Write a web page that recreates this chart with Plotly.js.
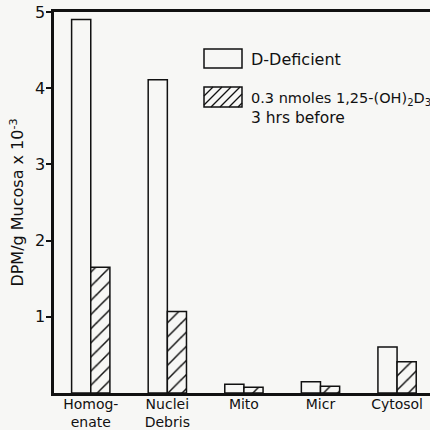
<!DOCTYPE html>
<html><head><meta charset="utf-8">
<script src="https://cdn.plot.ly/plotly-3.0.1.min.js"></script>
<style>html,body{margin:0;padding:0;background:#f7f7f5;}</style>
</head><body>
<div id="chart" style="width:430px;height:430px;"></div>
<script>
const categories = ['Homog-<br>enate', 'Nuclei<br>Debris', 'Mito', 'Micr', 'Cytosol'];
const deficientValues = [4.90, 4.11, 0.115, 0.147, 0.605];
const treatedValues = [1.65, 1.07, 0.076, 0.09, 0.41];
const yTickVals = [1, 2, 3, 4, 5];
const seriesNames = ['D-Deficient', '0.3 nmoles 1,25-(OH)<sub>2</sub>D<sub>3</sub>', '3 hrs before'];

const BG = '#f7f7f5';
const FONT = 'DejaVu Sans, sans-serif';
const M = {l: 54, r: 0, t: 12, b: 37};
const W = 430, H = 430;
const pw = W - M.l - M.r, ph = H - M.t - M.b;
const px = x => (x - M.l) / pw;
const py = y => (H - M.b - y) / ph;

const traces = [
  {type: 'bar', x: categories, y: deficientValues, name: seriesNames[0],
   marker: {color: BG, line: {color: '#111', width: 1.5}}},
  {type: 'bar', x: categories, y: treatedValues, name: seriesNames[1],
   marker: {color: BG, line: {color: '#111', width: 1.5},
            pattern: {shape: '/', size: 10, solidity: 0.15, fgcolor: '#111', bgcolor: BG}}}
];

// legend boxes (open and hatched) drawn as shapes
const bx0 = 204, bx1 = 242;
const hb = {y0: 87, y1: 107};
let hatch = '';
for (let s = bx0 - 20; s < bx1; s += 9) {
  let xa = s, ya = hb.y1, xb = s + 20, yb = hb.y0;
  if (xa < bx0) { ya = ya - (bx0 - xa); xa = bx0; }
  if (xb > bx1) { yb = yb + (xb - bx1); xb = bx1; }
  if (xa >= xb) continue;
  hatch += `M${px(xa)},${py(ya)}L${px(xb)},${py(yb)}`;
}
const shapes = [
  {type: 'rect', xref: 'paper', yref: 'paper', x0: px(bx0), x1: px(bx1), y0: py(68), y1: py(49),
   line: {color: '#111', width: 1.5}, fillcolor: BG},
  {type: 'rect', xref: 'paper', yref: 'paper', x0: px(bx0), x1: px(bx1), y0: py(hb.y1), y1: py(hb.y0),
   line: {color: '#111', width: 1.5}, fillcolor: BG},
  {type: 'path', xref: 'paper', yref: 'paper', path: hatch, line: {color: '#111', width: 1.3}}
];
const annotations = [
  {xref: 'paper', yref: 'paper', x: px(249), y: py(59), xanchor: 'left', yanchor: 'middle',
   text: seriesNames[0], showarrow: false, font: {family: FONT, size: 16, color: '#111'}},
  {xref: 'paper', yref: 'paper', x: px(249), y: py(99), xanchor: 'left', yanchor: 'middle',
   text: seriesNames[1], showarrow: false, font: {family: FONT, size: 14.5, color: '#111'}},
  {xref: 'paper', yref: 'paper', x: px(249), y: py(118), xanchor: 'left', yanchor: 'middle',
   text: seriesNames[2], showarrow: false, font: {family: FONT, size: 15.5, color: '#111'}}
];

const layout = {
  width: W, height: H, margin: M,
  paper_bgcolor: BG, plot_bgcolor: BG,
  showlegend: false,
  barmode: 'group', bargap: 0.5, bargroupgap: 0,
  font: {family: FONT, size: 15, color: '#111'},
  xaxis: {type: 'category', range: [-0.48, 4.43], showline: true, linewidth: 3, linecolor: '#111',
          mirror: true, ticks: '', showgrid: false, zeroline: false, ticklabelstandoff: -4,
          tickfont: {family: FONT, size: 14, color: '#111'}},
  yaxis: {range: [0, 5], tickvals: yTickVals, ticktext: yTickVals.map(String),
          showline: true, linewidth: 3.5, linecolor: '#111', ticks: 'outside', ticklen: 5, tickwidth: 2,
          tickcolor: '#111', showgrid: false, zeroline: false, ticklabelstandoff: -3,
          tickfont: {family: FONT, size: 16, color: '#111'},
          title: {text: 'DPM/g Mucosa x 10<sup>-3</sup>', font: {family: FONT, size: 16, color: '#111'}, standoff: 8}},
  shapes: shapes, annotations: annotations
};
Plotly.newPlot('chart', traces, layout, {displayModeBar: false, staticPlot: true});
</script>
</body></html>
